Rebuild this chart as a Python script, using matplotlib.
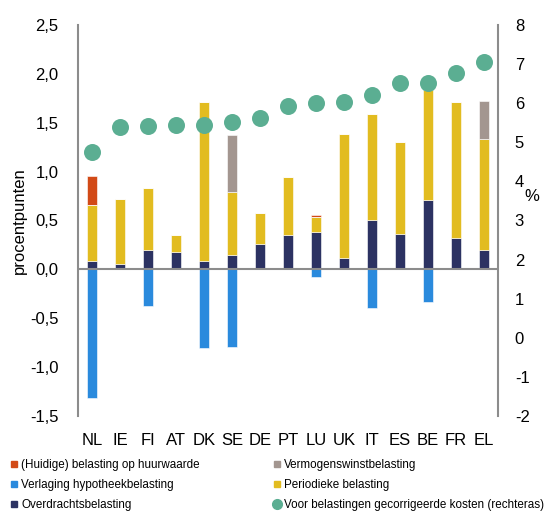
import numpy as np
import matplotlib.pyplot as plt
from matplotlib.lines import Line2D

plt.rcParams['font.family'] = ['Liberation Sans', 'DejaVu Sans']
plt.rcParams['axes.unicode_minus'] = False

countries = ['NL', 'IE', 'FI', 'AT', 'DK', 'SE', 'DE', 'PT', 'LU', 'UK', 'IT', 'ES', 'BE', 'FR', 'EL']

# components in procentpunten (left axis)
overdracht = [0.09, 0.05, 0.20, 0.18, 0.09, 0.15, 0.26, 0.35, 0.38, 0.12, 0.50, 0.36, 0.71, 0.32, 0.20]
periodiek = [0.57, 0.67, 0.63, 0.17, 1.62, 0.64, 0.32, 0.60, 0.16, 1.26, 1.09, 0.94, 1.13, 1.39, 1.13]
huurwaarde = [0.30, 0, 0, 0, 0, 0, 0, 0, 0.02, 0, 0, 0, 0, 0, 0]
vermogen = [0, 0, 0, 0, 0, 0.58, 0, 0, 0, 0, 0, 0, 0, 0, 0.39]
verlaging = [-1.32, 0, -0.37, 0, -0.80, -0.79, 0, 0, -0.08, 0, -0.40, 0, -0.33, 0, 0]

# gecorrigeerde kosten in % (right axis)
kosten = [4.75, 5.39, 5.41, 5.44, 5.44, 5.53, 5.63, 5.92, 6.00, 6.03, 6.21, 6.53, 6.53, 6.77, 7.06]

c_huur = '#D24A17'
c_verm = '#A39690'
c_verl = '#2A8ADD'
c_peri = '#E2BC20'
c_over = '#2C3262'
c_dots = '#5BAE92'
grey = '#8C8C8C'

x = np.arange(len(countries))
overdracht = np.array(overdracht)
periodiek = np.array(periodiek)
huurwaarde = np.array(huurwaarde)
vermogen = np.array(vermogen)

fig = plt.figure(figsize=(5.45, 5.11), dpi=100)
ax = fig.add_axes([0.143, 0.186, 0.771, 0.765])

w = 0.38
kw = dict(width=w, edgecolor='white', linewidth=0.4)
ax.bar(x, overdracht, color=c_over, **kw)
ax.bar(x, periodiek, bottom=overdracht, color=c_peri, **kw)
ax.bar(x, huurwaarde, bottom=overdracht + periodiek, color=c_huur, **kw)
ax.bar(x, vermogen, bottom=overdracht + periodiek, color=c_verm, **kw)
ax.bar(x, verlaging, color=c_verl, **kw)
ax.axhline(0, color=grey, linewidth=1.5, zorder=3)

ax.set_xlim(-0.5, len(countries) - 0.5)
ax.set_ylim(-1.5, 2.5)
yt = np.arange(-1.5, 2.51, 0.5)
ax.set_yticks(yt)
ax.set_yticklabels([f'{v:.1f}'.replace('.', ',') for v in yt])
ax.set_xticks(x)
ax.set_xticklabels(countries)
ax.tick_params(axis='both', length=0, labelsize=12)
ax.tick_params(axis='x', pad=12)
ax.tick_params(axis='y', pad=14)
ax.set_ylabel('procentpunten', fontsize=12, labelpad=2)
for s in ['top', 'bottom', 'right']:
    ax.spines[s].set_visible(False)
ax.spines['left'].set_color(grey)
ax.spines['left'].set_linewidth(1.5)

ax2 = ax.twinx()
ax2.scatter(x, kosten, s=150, color=c_dots, zorder=5, linewidths=0)
ax2.set_ylim(-2, 8)
ax2.set_yticks(range(-2, 9))
ax2.tick_params(axis='y', length=0, labelsize=12, pad=12)
for s in ['top', 'bottom', 'left']:
    ax2.spines[s].set_visible(False)
ax2.spines['right'].set_color(grey)
ax2.spines['right'].set_linewidth(1.5)
fig.text(0.962, 0.615, '%', fontsize=12, ha='left', va='center')

# legend in two columns below the chart
def sq(c):
    return Line2D([], [], marker='s', linestyle='', markersize=5, color=c)

left_h = [sq(c_huur), sq(c_verl), sq(c_over)]
left_l = ['(Huidige) belasting op huurwaarde', 'Verlaging hypotheekbelasting', 'Overdrachtsbelasting']
right_h = [sq(c_verm), sq(c_peri),
           Line2D([], [], marker='o', linestyle='', markersize=7, color=c_dots)]
right_l = ['Vermogenswinstbelasting', 'Periodieke belasting',
           'Voor belastingen gecorrigeerde kosten (rechteras)']
lkw = dict(frameon=False, fontsize=8.4, handlelength=0.8, handletextpad=0.2,
           labelspacing=0.7, borderaxespad=0, borderpad=0, loc='upper left')
fig.legend(left_h, left_l, bbox_to_anchor=(0.018, 0.102), **lkw)
fig.legend(right_h, right_l, bbox_to_anchor=(0.5, 0.102), **lkw)

fig.savefig('out.png', dpi=100)
